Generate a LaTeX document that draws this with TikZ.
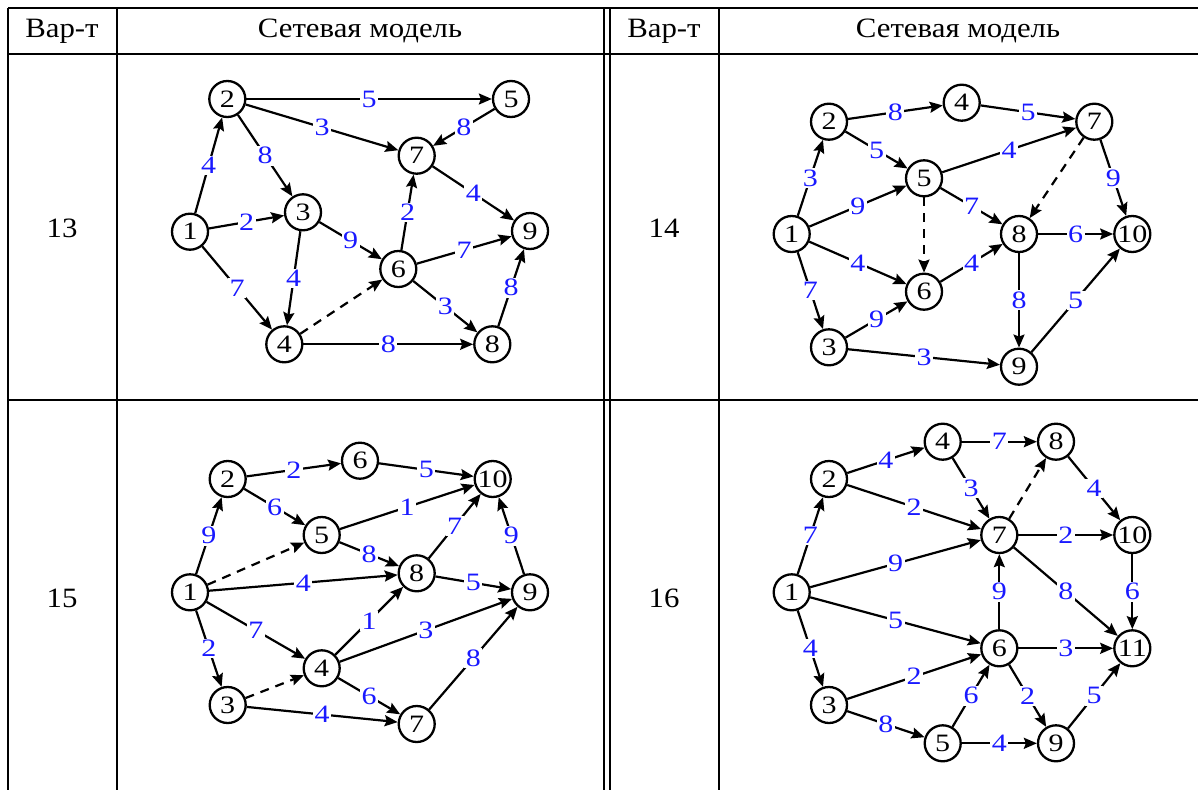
\documentclass[tikz,border=0pt]{standalone}
\usepackage{fontspec}
\setmainfont{Liberation Serif}
\newfontfamily\numfont[FakeStretch=1.2]{Liberation Serif}
\newfontfamily\hdrfont[FakeStretch=1.1]{Liberation Serif}
\usetikzlibrary{arrows.meta}
\definecolor{lblue}{RGB}{25,25,255}
\begin{document}
\begin{tikzpicture}[x=1pt,y=-1pt,
 vtx/.style={circle,draw,line width=2.3pt,minimum size=36pt,inner sep=0pt,font=\numfont\fontsize{25}{25}\selectfont},
 edge/.style={line width=2.2pt,-{Stealth[length=13pt,width=11pt,inset=2pt]}},
 dedge/.style={edge,dash pattern=on 9pt off 7pt},
 lab/.style={fill=white,inner sep=1.5pt,text=lblue,font=\numfont\fontsize{25}{25}\selectfont},
 grid/.style={line width=1.2pt},
 hdr/.style={font=\hdrfont\fontsize{28}{28}\selectfont}]
\useasboundingbox (0,0) rectangle (1198,790);
% table
\draw[grid] (8,8) -- (1198,8);
\draw[grid] (8,54) -- (1198,54);
\draw[grid] (8,400) -- (1198,400);
\foreach \xx in {8,117,604,610,719} \draw[grid] (\xx,8) -- (\xx,790);
% headers
\node[hdr] (h1) at (62,31) {Вар-т};
\node[hdr] (h2) at (360,31) {Сетевая модель};
\node[hdr] (h3) at (664,31) {Вар-т};
\node[hdr] (h4) at (958,31) {Сетевая модель};
\node[hdr] (r13) at (62,228) {13};
\node[hdr] (r14) at (664,228) {14};
\node[hdr] (r15) at (62,598) {15};
\node[hdr] (r16) at (664,598) {16};
% ---------- 13
\node[vtx] (A1) at (190,231.7) {1};
\node[vtx] (A2) at (227.3,99) {2};
\node[vtx] (A3) at (303,212.3) {3};
\node[vtx] (A4) at (284.3,344.3) {4};
\node[vtx] (A5) at (511,99) {5};
\node[vtx] (A6) at (398.3,269) {6};
\node[vtx] (A7) at (416.7,155.7) {7};
\node[vtx] (A8) at (492.3,344.3) {8};
\node[vtx] (A9) at (530,231) {9};
\draw[edge] (A1) -- node[lab]{4} (A2);
\draw[edge] (A1) -- node[lab]{2} (A3);
\draw[edge] (A1) -- node[lab]{7} (A4);
\draw[edge] (A2) -- node[lab]{5} (A5);
\draw[edge] (A2) -- node[lab]{3} (A7);
\draw[edge] (A2) -- node[lab]{8} (A3);
\draw[edge] (A5) -- node[lab]{8} (A7);
\draw[edge] (A3) -- node[lab]{9} (A6);
\draw[edge] (A3) -- node[lab]{4} (A4);
\draw[dedge] (A4) -- (A6);
\draw[edge] (A4) -- node[lab]{8} (A8);
\draw[edge] (A6) -- node[lab]{2} (A7);
\draw[edge] (A7) -- node[lab]{4} (A9);
\draw[edge] (A6) -- node[lab]{7} (A9);
\draw[edge] (A6) -- node[lab]{3} (A8);
\draw[edge] (A8) -- node[lab]{8} (A9);
% ---------- 14
\node[vtx] (B1) at (791.7,234) {1};
\node[vtx] (B2) at (829,121.7) {2};
\node[vtx] (B3) at (829,347.3) {3};
\node[vtx] (B4) at (961.7,102.7) {4};
\node[vtx] (B5) at (924,178.3) {5};
\node[vtx] (B6) at (924,291.7) {6};
\node[vtx] (B7) at (1094.3,121.7) {7};
\node[vtx] (B8) at (1019,234) {8};
\node[vtx] (B9) at (1019,366.7) {9};
\node[vtx] (B10) at (1132.3,234) {10};
\draw[edge] (B1) -- node[lab]{3} (B2);
\draw[edge] (B2) -- node[lab]{8} (B4);
\draw[edge] (B4) -- node[lab]{5} (B7);
\draw[edge] (B2) -- node[lab]{5} (B5);
\draw[edge] (B1) -- node[lab]{9} (B5);
\draw[edge] (B5) -- node[lab]{4} (B7);
\draw[edge] (B7) -- node[lab]{9} (B10);
\draw[dedge] (B7) -- (B8);
\draw[dedge] (B5) -- (B6);
\draw[edge] (B5) -- node[lab]{7} (B8);
\draw[edge] (B1) -- node[lab]{4} (B6);
\draw[edge] (B8) -- node[lab]{6} (B10);
\draw[edge] (B6) -- node[lab]{4} (B8);
\draw[edge] (B1) -- node[lab]{7} (B3);
\draw[edge] (B3) -- node[lab]{9} (B6);
\draw[edge] (B8) -- node[lab]{8} (B9);
\draw[edge] (B3) -- node[lab]{3} (B9);
\draw[edge] (B9) -- node[lab]{5} (B10);
% ---------- 15
\node[vtx] (C1) at (190,592.3) {1};
\node[vtx] (C2) at (227.7,479) {2};
\node[vtx] (C3) at (227.7,705) {3};
\node[vtx] (C4) at (321.7,668.3) {4};
\node[vtx] (C5) at (321.7,535) {5};
\node[vtx] (C6) at (360,460.7) {6};
\node[vtx] (C7) at (416.7,724) {7};
\node[vtx] (C8) at (416.7,573.3) {8};
\node[vtx] (C9) at (530,592.3) {9};
\node[vtx] (C10) at (492.7,479) {10};
\draw[edge] (C2) -- node[lab]{2} (C6);
\draw[edge] (C6) -- node[lab]{5} (C10);
\draw[edge] (C2) -- node[lab]{6} (C5);
\draw[edge] (C1) -- node[lab]{9} (C2);
\draw[dedge] (C1) -- (C5);
\draw[edge] (C5) -- node[lab]{1} (C10);
\draw[edge] (C5) -- node[lab]{8} (C8);
\draw[edge] (C8) -- node[lab]{7} (C10);
\draw[edge] (C9) -- node[lab]{9} (C10);
\draw[edge] (C1) -- node[lab]{4} (C8);
\draw[edge] (C8) -- node[lab]{5} (C9);
\draw[edge] (C1) -- node[lab]{7} (C4);
\draw[edge] (C4) -- node[lab]{1} (C8);
\draw[edge] (C4) -- node[lab]{3} (C9);
\draw[edge] (C1) -- node[lab]{2} (C3);
\draw[dedge] (C3) -- (C4);
\draw[edge] (C3) -- node[lab]{4} (C7);
\draw[edge] (C4) -- node[lab]{6} (C7);
\draw[edge] (C7) -- node[lab]{8} (C9);
% ---------- 16
\node[vtx] (D1) at (791.7,592.3) {1};
\node[vtx] (D2) at (829,479) {2};
\node[vtx] (D3) at (829,705) {3};
\node[vtx] (D4) at (942.7,441.7) {4};
\node[vtx] (D5) at (942.7,743.3) {5};
\node[vtx] (D6) at (999.3,648.3) {6};
\node[vtx] (D7) at (999.3,535) {7};
\node[vtx] (D8) at (1056,441.7) {8};
\node[vtx] (D9) at (1056,743.3) {9};
\node[vtx] (D10) at (1132.3,535) {10};
\node[vtx] (D11) at (1132.3,648.3) {11};
\draw[edge] (D2) -- node[lab]{4} (D4);
\draw[edge] (D4) -- node[lab]{7} (D8);
\draw[edge] (D4) -- node[lab]{3} (D7);
\draw[dedge] (D7) -- (D8);
\draw[edge] (D8) -- node[lab]{4} (D10);
\draw[edge] (D2) -- node[lab]{2} (D7);
\draw[edge] (D1) -- node[lab]{7} (D2);
\draw[edge] (D1) -- node[lab]{9} (D7);
\draw[edge] (D7) -- node[lab]{2} (D10);
\draw[edge] (D7) -- node[lab]{8} (D11);
\draw[edge] (D10) -- node[lab]{6} (D11);
\draw[edge] (D6) -- node[lab]{9} (D7);
\draw[edge] (D1) -- node[lab]{5} (D6);
\draw[edge] (D6) -- node[lab]{3} (D11);
\draw[edge] (D1) -- node[lab]{4} (D3);
\draw[edge] (D3) -- node[lab]{2} (D6);
\draw[edge] (D5) -- node[lab]{6} (D6);
\draw[edge] (D6) -- node[lab]{2} (D9);
\draw[edge] (D9) -- node[lab]{5} (D11);
\draw[edge] (D3) -- node[lab]{8} (D5);
\draw[edge] (D5) -- node[lab]{4} (D9);
\end{tikzpicture}
\end{document}
